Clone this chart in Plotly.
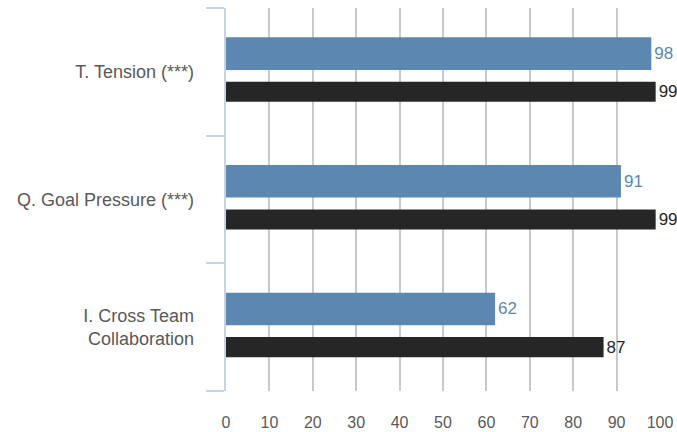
import plotly.graph_objects as go

categories = ["T. Tension (***)", "Q. Goal Pressure (***)", "I. Cross Team<br>Collaboration"]
series_a = [98, 91, 62]
series_b = [99, 99, 87]
x_ticks = list(range(0, 101, 10))

blue = "#5b87b0"
dark = "#262626"
axis_blue = "#c5d4e3"
grid = "#c9c9c9"
font_family = "Liberation Sans"

pos = list(range(len(categories)))

fig = go.Figure()
fig.add_trace(go.Bar(
    x=series_a, y=pos, orientation="h",
    marker=dict(color=blue, line=dict(width=0)),
    width=0.255, offset=-0.27,
    text=[str(v) for v in series_a], textposition="outside",
    textfont=dict(color=blue, size=17, family=font_family),
    cliponaxis=False, constraintext="none", showlegend=False,
))
fig.add_trace(go.Bar(
    x=series_b, y=pos, orientation="h",
    marker=dict(color=dark, line=dict(width=0)),
    width=0.157, offset=0.078,
    text=[str(v) for v in series_b], textposition="outside",
    textfont=dict(color=dark, size=17, family=font_family),
    cliponaxis=False, constraintext="none", showlegend=False,
))
# invisible trace to carry the label axis
fig.add_trace(go.Scatter(x=[None], y=[None], yaxis="y2", showlegend=False))

fig.update_layout(
    width=677, height=432,
    margin=dict(l=226, r=17, t=8, b=41, autoexpand=False),
    paper_bgcolor="white", plot_bgcolor="white",
    barmode="overlay",
    font=dict(family=font_family, size=16, color="#595959"),
    xaxis=dict(
        range=[0, 100], tickvals=x_ticks, showgrid=True, gridcolor=grid, gridwidth=1.5,
        zeroline=False, showline=False, ticks="", ticklabelstandoff=20, automargin=False,
        tickfont=dict(size=16, color="#595959", family=font_family),
    ),
    yaxis=dict(
        range=[2.5, -0.5], tickvals=[-0.5, 0.5, 1.5, 2.5], ticktext=["", "", "", ""],
        showgrid=False, zeroline=False, showline=True, linecolor=axis_blue, linewidth=2,
        ticks="outside", ticklen=18, tickwidth=2, tickcolor=axis_blue, automargin=False,
    ),
    yaxis2=dict(
        overlaying="y", side="left", range=[2.5, -0.5], tickvals=pos, ticktext=categories,
        showgrid=False, zeroline=False, showline=False, ticks="", automargin=False,
        ticklabelstandoff=31, tickfont=dict(size=18, color="#595959", family=font_family),
    ),
)

fig.write_html("out.html")
